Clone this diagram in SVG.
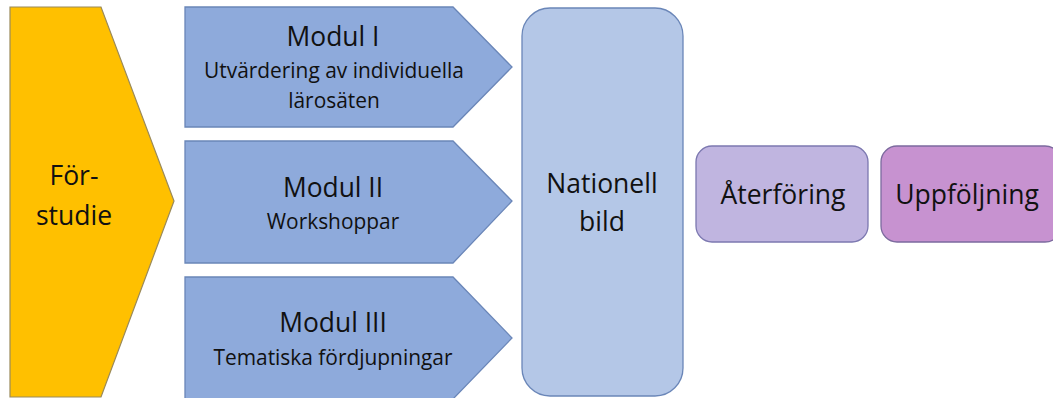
<svg xmlns="http://www.w3.org/2000/svg" width="1053" height="398" viewBox="0 0 1053 398">
<style>
text{font-family:"Open Sans","Liberation Sans",sans-serif;fill:#111;text-anchor:middle}
.big{font-size:26.5px}
.mid{font-size:26.4px}
.small{font-size:20.9px}
.mod{fill:#8EAADB;stroke:#6A86B8;stroke-width:1.3}
</style>
<rect width="1053" height="398" fill="#fff"/>
<g id="forstudie">
<polygon points="10,7 101,7 174,201 101,397 10,397" fill="#FFC000" stroke="#9A8A5A" stroke-width="1.2"/>
<text class="big" x="74" y="185">För-</text>
<text class="big" x="74" y="225">studie</text>
</g>
<g id="modul1">
<polygon class="mod" points="185,7 453,7 512,67 453,127 185,127"/>
<text class="mid" x="333" y="46">Modul I</text>
<text class="small" x="334" y="78">Utvärdering av individuella</text>
<text class="small" x="334" y="108">lärosäten</text>
</g>
<g id="modul2">
<polygon class="mod" points="185,141 453,141 512,201 453,263 185,263"/>
<text class="mid" x="333" y="197">Modul II</text>
<text class="small" x="333" y="229">Workshoppar</text>
</g>
<g id="modul3">
<polygon class="mod" points="185,277 453,277 512,338 453,399 185,399"/>
<text class="mid" x="333" y="332">Modul III</text>
<text class="small" x="333" y="365">Tematiska fördjupningar</text>
</g>
<g id="nationell">
<rect x="522" y="8" width="161" height="388" rx="28" fill="#B4C7E7" stroke="#6A86B8" stroke-width="1.3"/>
<text class="big" x="602" y="193">Nationell</text>
<text class="big" x="602" y="231">bild</text>
</g>
<g id="aterforing">
<rect x="696" y="146" width="172" height="96" rx="16" fill="#C0B5E0" stroke="#7C78B0" stroke-width="1.3"/>
<text class="big" x="783" y="204">Återföring</text>
</g>
<g id="uppfoljning">
<rect x="881" y="146" width="180" height="96" rx="16" fill="#C792D0" stroke="#7C6A9E" stroke-width="1.3"/>
<text class="big" x="967" y="204">Uppföljning</text>
</g>
<g id="connectors"></g>
</svg>
